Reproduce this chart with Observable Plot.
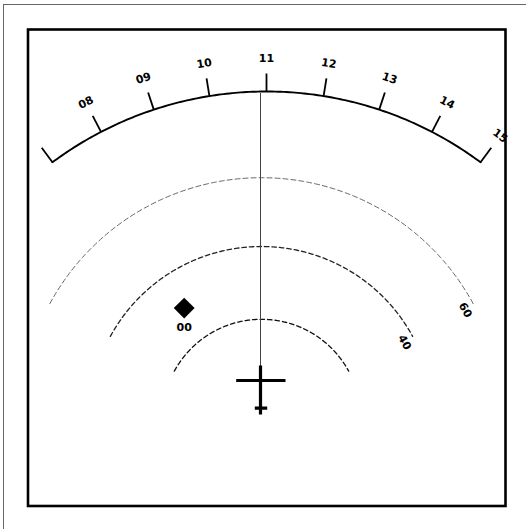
<!DOCTYPE html>
<html>
<head>
<meta charset="utf-8">
<script src="https://cdn.jsdelivr.net/npm/d3@7"></script>
<script src="https://cdn.jsdelivr.net/npm/@observablehq/plot@0.6"></script>
<style>
  html, body { margin: 0; padding: 0; background: #fff; overflow: hidden; }
  #chart svg { display: block; }
</style>
</head>
<body>
<div id="chart"></div>
<script>
// ---------- data ----------
const headings = [70, 80, 90, 100, 110, 120, 130, 140, 150];          // compass ticks (deg)
const headingLabels = ["", "08", "09", "10", "11", "12", "13", "14", "15"];
const ringRanges = [24.8, 43, 60.2];                                  // range rings (nm)
const ringLabels = ["", "40", "60"];
const waypointNames = ["00"];
const waypointBearings = [-35];                                       // relative bearing (deg)
const waypointRanges = [33.7];                                        // nm
const displayHeading = 110;

// ---------- layout ----------
const W = 526, H = 529;
const k = 4;                          // px per nm
const C = {x: 261, y: 418};           // aircraft / ring centre (px)
const F = {l: 27.5, t: 29, r: 505, b: 505.5};
const X = px => (px - C.x) / k;
const Y = py => (C.y - py) / k;
const deg = Math.PI / 180;

// compass arc geometry (nm, relative to aircraft)
const compass = {cx: X(266), cy: Y(450), R: 359 / k, tick: 18 / k, label: 392 / k, spread: 0.915};
const cAngle = h => (h - displayHeading) * compass.spread;
const cPt = (h, r) => {
  const a = cAngle(h) * deg;
  return {x: compass.cx + r * Math.sin(a), y: compass.cy + r * Math.cos(a)};
};

const ticks = headings.map((h, i) => {
  const p0 = cPt(h, compass.R), p1 = cPt(h, compass.R + compass.tick), pl = cPt(h, compass.label);
  return {h, label: headingLabels[i], x1: p0.x, y1: p0.y, x2: p1.x, y2: p1.y, lx: pl.x, ly: pl.y, rot: cAngle(h)};
});

const arcPts = d3.range(headings[0], headings[headings.length - 1] + 0.01, 0.5).map(h => cPt(h, compass.R));

const ringSpan = 61.5;
const ringStyles = [
  {stroke: "#111", strokeWidth: 1.3, dash: "4.5,3"},
  {stroke: "#222", strokeWidth: 1.3, dash: "4.5,3"},
  {stroke: "#666", strokeWidth: 1, dash: "5,3"}
];
const ringLines = ringRanges.map(R =>
  d3.range(-ringSpan, ringSpan + 0.01, 0.5).map(a => ({x: R * Math.sin(a * deg), y: R * Math.cos(a * deg)}))
);
const ringLabelData = ringRanges.map((R, i) => {
  const a = 62, r = R - 10 / k;
  return {label: ringLabels[i], x: r * Math.sin(a * deg), y: r * Math.cos(a * deg), rot: a};
}).filter(d => d.label);

const waypoints = waypointNames.map((n, i) => ({
  name: n,
  x: waypointRanges[i] * Math.sin(waypointBearings[i] * deg),
  y: waypointRanges[i] * Math.cos(waypointBearings[i] * deg)
}));

// aircraft symbol (drawn around the aircraft reference point, px offsets)
const aircraftSymbol = {
  draw(ctx) {
    ctx.moveTo(-1, -53); ctx.lineTo(-1, -4);
    ctx.moveTo(-25.3, -38); ctx.lineTo(24, -38);
    ctx.moveTo(-6.7, -10.3); ctx.lineTo(5.7, -10.3);
  }
};

const font = {fontFamily: "DejaVu Sans", fontWeight: "bold", fontSize: 11, fill: "#000"};

const chart = Plot.plot({
  width: W, height: H,
  marginLeft: F.l, marginRight: W - F.r, marginTop: F.t, marginBottom: H - F.b,
  x: {domain: [X(F.l), X(F.r)], axis: null},
  y: {domain: [Y(F.b), Y(F.t)], axis: null},
  style: {background: "#fff", overflow: "visible"},
  marks: [
    // page border (top & left)
    Plot.ruleY([Y(4)], {x1: X(3), x2: X(W), stroke: "#666", strokeWidth: 1}),
    Plot.ruleX([X(3)], {y1: Y(4), y2: Y(H), stroke: "#666", strokeWidth: 1}),
    // range rings
    ...ringLines.map((pts, i) => Plot.line(pts, {
      x: "x", y: "y", stroke: ringStyles[i].stroke, strokeWidth: ringStyles[i].strokeWidth,
      strokeDasharray: ringStyles[i].dash, curve: "linear"
    })),
    Plot.text(ringLabelData, {x: "x", y: "y", text: "label", rotate: "rot", ...font}),
    // heading line
    Plot.ruleX([X(260)], {y1: Y(366), y2: Y(93), stroke: "#444", strokeWidth: 1}),
    // compass arc + ticks + labels
    Plot.line(arcPts, {x: "x", y: "y", stroke: "#000", strokeWidth: 1.9}),
    Plot.link(ticks, {x1: "x1", y1: "y1", x2: "x2", y2: "y2", stroke: "#000", strokeWidth: 1.8}),
    Plot.text(ticks.filter(d => d.label), {x: "lx", y: "ly", text: "label", rotate: "rot", ...font}),
    // waypoint
    Plot.dot(waypoints, {x: "x", y: "y", symbol: "diamond2", r: 9.4, fill: "#000", stroke: "none"}),
    Plot.text(waypoints, {x: "x", y: "y", text: "name", dy: 19.5, ...font}),
    // aircraft
    Plot.dot([{x: 0, y: 0}], {x: "x", y: "y", symbol: aircraftSymbol, r: 10, fill: "none", stroke: "#000", strokeWidth: 3.2}),
    // display frame
    Plot.frame({stroke: "#000", strokeWidth: 2.6})
  ]
});
document.getElementById("chart").appendChild(chart);
</script>
</body>
</html>
